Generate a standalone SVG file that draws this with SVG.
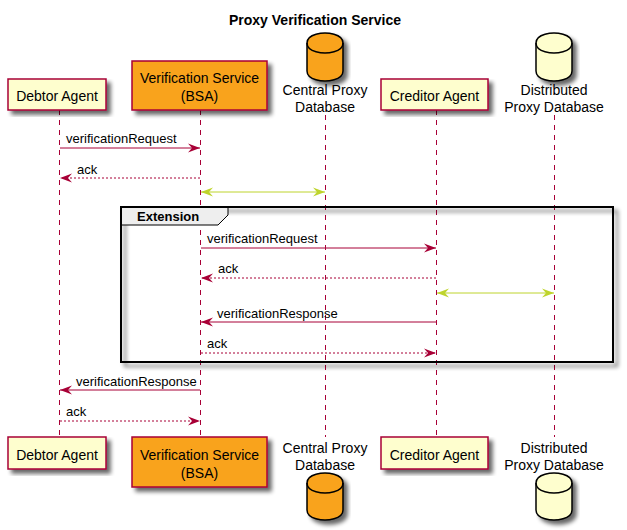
<svg xmlns="http://www.w3.org/2000/svg" width="627" height="530" viewBox="0 0 627 530">
<defs>
<filter id="sh" x="-10%" y="-10%" width="130%" height="130%">
<feGaussianBlur in="SourceAlpha" stdDeviation="2"/>
<feOffset dx="4" dy="4" result="b"/>
<feComponentTransfer><feFuncA type="linear" slope="0.6"/></feComponentTransfer>
<feMerge><feMergeNode/><feMergeNode in="SourceGraphic"/></feMerge>
</filter>
<marker id="ah" viewBox="0 0 13 10" refX="12" refY="5" markerWidth="13" markerHeight="10" markerUnits="userSpaceOnUse" orient="auto-start-reverse">
<polygon points="0,0.5 12,5 0,9.5 4,5" fill="#A80036"/>
</marker>
<marker id="gh" viewBox="0 0 13 10" refX="12" refY="5" markerWidth="13" markerHeight="10" markerUnits="userSpaceOnUse" orient="auto-start-reverse">
<polygon points="0,0.5 12,5 0,9.5 4,5" fill="#BED42C"/>
</marker>
</defs>
<style>
text{font-family:"Liberation Sans",Arial,sans-serif;fill:#000}
.pt{font-size:14px}
.ml{font-size:13px}
.box{fill:#FEFECE;stroke:#A80036;stroke-width:1.5}
.obox{fill:#F9A31A;stroke:#A80036;stroke-width:1.5}
.db{stroke:#000;stroke-width:1.5}
.life{stroke:#A80036;stroke-width:1;stroke-dasharray:5,5;fill:none}
.msg{stroke:#A80036;stroke-width:1;fill:none;marker-end:url(#ah)}
.dash{stroke-dasharray:2,2}
.grn{stroke:#BED42C;stroke-width:1;fill:none;marker-end:url(#gh);marker-start:url(#gh)}
</style>
<rect width="627" height="530" fill="#fff"/>
<text x="315" y="25" text-anchor="middle" style="font-size:14px;font-weight:bold">Proxy Verification Service</text>

<g id="lifelines">
<line class="life" x1="59.5" y1="110" x2="59.5" y2="437"/>
<line class="life" x1="200.5" y1="110" x2="200.5" y2="437"/>
<line class="life" x1="325.5" y1="115" x2="325.5" y2="437"/>
<line class="life" x1="436.5" y1="110" x2="436.5" y2="437"/>
<line class="life" x1="554.5" y1="115" x2="554.5" y2="437"/>
</g>

<g id="extension-frame">
<rect x="121" y="207" width="492" height="155" fill="none" stroke="#000" stroke-width="2" filter="url(#sh)"/>
<path d="M121,207 L228,207 L228,215 L218,225 L121,225 Z" fill="#EEEEEE" stroke="#000" stroke-width="1"/>
<rect x="121" y="207" width="492" height="155" fill="none" stroke="#000" stroke-width="2"/>
<text x="137" y="221" style="font-size:13px;font-weight:bold">Extension</text>
</g>

<g id="debtor-agent">
<rect class="box" x="8" y="79" width="98" height="31" filter="url(#sh)"/>
<text class="pt" x="57" y="101" text-anchor="middle">Debtor Agent</text>
<rect class="box" x="8" y="437" width="98" height="32" filter="url(#sh)"/>
<text class="pt" x="57" y="460" text-anchor="middle">Debtor Agent</text>
</g>

<g id="verification-service">
<rect class="obox" x="132" y="61" width="135" height="49" filter="url(#sh)"/>
<text class="pt" x="199.5" y="83" text-anchor="middle">Verification Service</text>
<text class="pt" x="199.5" y="101" text-anchor="middle">(BSA)</text>
<rect class="obox" x="132" y="437" width="135" height="50" filter="url(#sh)"/>
<text class="pt" x="199.5" y="460" text-anchor="middle">Verification Service</text>
<text class="pt" x="199.5" y="478" text-anchor="middle">(BSA)</text>
</g>

<g id="central-proxy-database">
<g filter="url(#sh)">
<path class="db" fill="#F9A31A" d="M307,43 C307,33 325,33 325,33 C325,33 343,33 343,43 L343,71 C343,81 325,81 325,81 C325,81 307,81 307,71 Z"/>
<path class="db" fill="none" d="M307,43 C307,53 325,53 325,53 C325,53 343,53 343,43"/>
</g>
<text class="pt" x="325" y="95" text-anchor="middle">Central Proxy</text>
<text class="pt" x="325" y="112" text-anchor="middle">Database</text>
<text class="pt" x="325" y="453" text-anchor="middle">Central Proxy</text>
<text class="pt" x="325" y="470" text-anchor="middle">Database</text>
<g filter="url(#sh)">
<path class="db" fill="#F9A31A" d="M307,483 C307,473 325,473 325,473 C325,473 343,473 343,483 L343,510 C343,520 325,520 325,520 C325,520 307,520 307,510 Z"/>
<path class="db" fill="none" d="M307,483 C307,493 325,493 325,493 C325,493 343,493 343,483"/>
</g>
</g>

<g id="creditor-agent">
<rect class="box" x="381" y="79" width="107" height="31" filter="url(#sh)"/>
<text class="pt" x="434.5" y="101" text-anchor="middle">Creditor Agent</text>
<rect class="box" x="381" y="437" width="107" height="32" filter="url(#sh)"/>
<text class="pt" x="434.5" y="460" text-anchor="middle">Creditor Agent</text>
</g>

<g id="distributed-proxy-database">
<g filter="url(#sh)">
<path class="db" fill="#FEFECE" d="M536,43 C536,33 554,33 554,33 C554,33 572,33 572,43 L572,71 C572,81 554,81 554,81 C554,81 536,81 536,71 Z"/>
<path class="db" fill="none" d="M536,43 C536,53 554,53 554,53 C554,53 572,53 572,43"/>
</g>
<text class="pt" x="554" y="95" text-anchor="middle">Distributed</text>
<text class="pt" x="554" y="112" text-anchor="middle">Proxy Database</text>
<text class="pt" x="554" y="453" text-anchor="middle">Distributed</text>
<text class="pt" x="554" y="470" text-anchor="middle">Proxy Database</text>
<g filter="url(#sh)">
<path class="db" fill="#FEFECE" d="M536,483 C536,473 554,473 554,473 C554,473 572,473 572,483 L572,510 C572,520 554,520 554,520 C554,520 536,520 536,510 Z"/>
<path class="db" fill="none" d="M536,483 C536,493 554,493 554,493 C554,493 572,493 572,483"/>
</g>
</g>

<g id="connectors">
<line class="msg" x1="60" y1="148" x2="200" y2="148"/>
<text class="ml" x="66" y="143">verificationRequest</text>
<line class="msg dash" x1="200" y1="178" x2="60" y2="178"/>
<text class="ml" x="77" y="174">ack</text>
<line class="grn" x1="201" y1="192" x2="325" y2="192"/>

<line class="msg" x1="201" y1="248" x2="436" y2="248"/>
<text class="ml" x="207" y="243">verificationRequest</text>
<line class="msg dash" x1="436" y1="278" x2="201" y2="278"/>
<text class="ml" x="218" y="273">ack</text>
<line class="grn" x1="437" y1="293" x2="554" y2="293"/>
<line class="msg" x1="436" y1="322" x2="201" y2="322"/>
<text class="ml" x="217" y="318">verificationResponse</text>
<line class="msg dash" x1="201" y1="353" x2="436" y2="353"/>
<text class="ml" x="207" y="348">ack</text>

<line class="msg" x1="200" y1="390" x2="60" y2="390"/>
<text class="ml" x="76" y="386">verificationResponse</text>
<line class="msg dash" x1="60" y1="421" x2="200" y2="421"/>
<text class="ml" x="66" y="416">ack</text>
</g>
</svg>
